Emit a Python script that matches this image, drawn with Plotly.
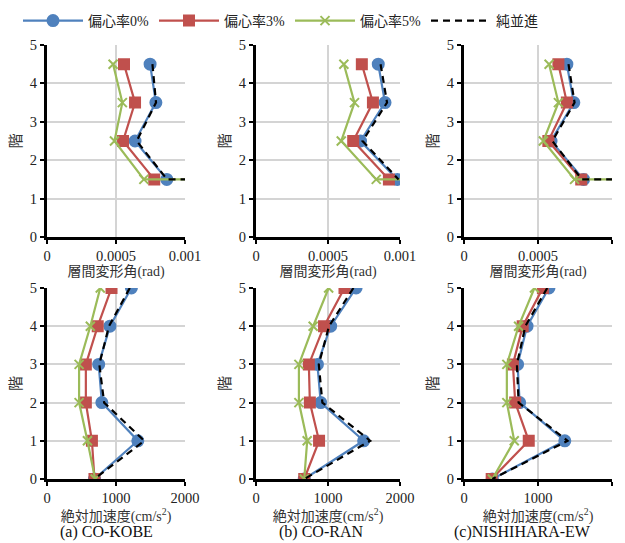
import plotly.graph_objects as go

# ---------------- data ----------------
drift_floors = [4.5, 3.5, 2.5, 1.5, 1.5]   # last entry = run-off beyond the axis
acc_floors = [5, 4, 3, 2, 1, 0]

series_names = ["偏心率0%", "偏心率3%", "偏心率5%", "純並進"]

# story drift angle (rad) ; None = no run-off
drift_kobe = {
    "偏心率0%": [0.000747, 0.000789, 0.000638, 0.000868, None],
    "偏心率3%": [0.000558, 0.000638, 0.000551, 0.000777, None],
    "偏心率5%": [0.000479, 0.000546, 0.000489, 0.000702, 0.0012],
    "純並進":   [0.000764, 0.000790, 0.000650, 0.000870, 0.0012],
}
drift_ran = {
    "偏心率0%": [0.000849, 0.000896, 0.000726, 0.000981, None],
    "偏心率3%": [0.000735, 0.000812, 0.000675, 0.000923, None],
    "偏心率5%": [0.000610, 0.000684, 0.000592, 0.000835, 0.0012],
    "純並進":   [0.000865, 0.000910, 0.000740, 0.000990, None],
}
drift_nishi = {
    "偏心率0%": [0.000695, 0.000742, 0.000588, 0.000808, None],
    "偏心率3%": [0.000638, 0.000695, 0.000570, 0.000792, None],
    "偏心率5%": [0.000575, 0.000638, 0.000536, 0.000747, 0.0012],
    "純並進":   [0.000706, 0.000747, 0.000597, 0.000796, 0.0012],
}

# absolute acceleration (cm/s^2), floors 5..0
acc_kobe = {
    "偏心率0%": [1223, 912, 749, 795, 1316, 688],
    "偏心率3%": [935, 735, 563, 563, 651, 688],
    "偏心率5%": [772, 628, 465, 465, 586, 698],
    "純並進":   [1200, 898, 758, 828, 1409, 688],
}
acc_ran = {
    "偏心率0%": [1390, 1037, 853, 899, 1495, 670],
    "偏心率3%": [1229, 945, 734, 748, 876, 670],
    "偏心率5%": [1009, 794, 596, 596, 711, 670],
    "純並進":   [1353, 1014, 872, 922, 1587, 670],
}
acc_nishi = {
    "偏心率0%": [1148, 852, 724, 752, 1362, 383],
    "偏心率3%": [1066, 793, 661, 692, 875, 374],
    "偏心率5%": [952, 738, 579, 579, 679, 383],
    "純並進":   [1125, 829, 715, 738, 1399, 383],
}

captions = ["(a) CO-KOBE", "(b) CO-RAN", "(c)NISHIHARA-EW"]
drift_ticks = [0, 0.0005, 0.001]
drift_ticktext = ["0", "0.0005", "0.001"]
acc_ticks = [0, 1000, 2000]
floor_ticks = [0, 1, 2, 3, 4, 5]

# ---------------- styles ----------------
FONT = "Liberation Serif, Noto Sans CJK JP, serif"
styles = {
    "偏心率0%": dict(color="#4f81bd", symbol="circle", size=11, mode="lines+markers", dash="solid"),
    "偏心率3%": dict(color="#c0504d", symbol="square", size=10, mode="lines+markers", dash="solid"),
    "偏心率5%": dict(color="#9bbb59", symbol="x-thin", size=9, mode="lines+markers", dash="solid"),
    "純並進":   dict(color="#000000", symbol="circle", size=1, mode="lines", dash="7px,5px"),
}

W, H = 625, 543
col_px = [(47, 185), (256, 400), (464, 612)]
row_px = {"top": (45, 237), "bot": (288, 479)}
col_dom = [(a / W, b / W) for a, b in col_px]
row_dom = {k: (1 - b / H, 1 - a / H) for k, (a, b) in row_px.items()}

fig = go.Figure()

panels = [
    ("top", 0, drift_kobe), ("top", 1, drift_ran), ("top", 2, drift_nishi),
    ("bot", 0, acc_kobe), ("bot", 1, acc_ran), ("bot", 2, acc_nishi),
]

layout = {}
for i, (row, col, data) in enumerate(panels):
    idx = i + 1
    xa = "x" if idx == 1 else f"x{idx}"
    ya = "y" if idx == 1 else f"y{idx}"
    floors = drift_floors if row == "top" else acc_floors
    for name in series_names:
        vals = data[name]
        xs, ys = [], []
        for v, f in zip(vals, floors):
            if v is not None:
                xs.append(v)
                ys.append(f)
        st = styles[name]
        fig.add_trace(go.Scatter(
            x=xs, y=ys, mode=st["mode"], name=name,
            xaxis=xa, yaxis=ya, showlegend=(idx == 1),
            line=dict(color=st["color"], width=2.2, dash=st["dash"]),
            marker=dict(symbol=st["symbol"], size=st["size"], color=st["color"],
                        line=dict(color=st["color"], width=2)),
        ))
    axis_common = dict(
        showline=True, linecolor="black", linewidth=3,
        showgrid=True, gridcolor="#d4d4d4", gridwidth=1.5,
        zeroline=False, ticks="outside", ticklen=4, tickwidth=2, tickcolor="black",
        tickfont=dict(family=FONT, size=14.5, color="#222"),
        fixedrange=True, automargin=False,
    )
    if row == "top":
        xaxis = dict(axis_common, range=[0, 0.001], tickvals=drift_ticks, ticktext=drift_ticktext,
                     title=dict(text="層間変形角(rad)", font=dict(family=FONT, size=14, color="#333"),
                                standoff=1))
    else:
        xaxis = dict(axis_common, range=[0, 2000], tickvals=acc_ticks,
                     title=dict(text="絶対加速度(cm/s<sup>2</sup>)", font=dict(family=FONT, size=14, color="#333"),
                                standoff=0))
    xaxis.update(domain=list(col_dom[col]), anchor=ya)
    yaxis = dict(axis_common, range=[0, 5], tickvals=floor_ticks, domain=list(row_dom[row]), anchor=xa,
                 title=dict(text="階", font=dict(family=FONT, size=15, color="#333"), standoff=5))
    layout["xaxis" if idx == 1 else f"xaxis{idx}"] = xaxis
    layout["yaxis" if idx == 1 else f"yaxis{idx}"] = yaxis

annotations = []
for c, cap in enumerate(captions):
    cx = [106, 321, 522][c] / W
    annotations.append(dict(text=cap, x=cx, y=1 - 532 / H, xref="paper", yref="paper",
                            showarrow=False, xanchor="center", yanchor="middle",
                            font=dict(family=FONT, size=16, color="#111")))

fig.update_layout(
    **layout,
    template="none",
    width=W, height=H,
    margin=dict(l=0, r=0, t=0, b=0, autoexpand=False),
    paper_bgcolor="white", plot_bgcolor="white",
    annotations=annotations,
    legend=dict(orientation="h", x=18 / W, xanchor="left", y=1 - 21 / H, yanchor="middle",
                font=dict(family=FONT, size=14, color="#222"),
                itemwidth=60, tracegroupgap=0, bgcolor="rgba(0,0,0,0)"),
)

fig.write_html("out.html", config={"displayModeBar": False},
               post_script="document.body.style.margin='0';document.body.style.overflow='hidden';")
